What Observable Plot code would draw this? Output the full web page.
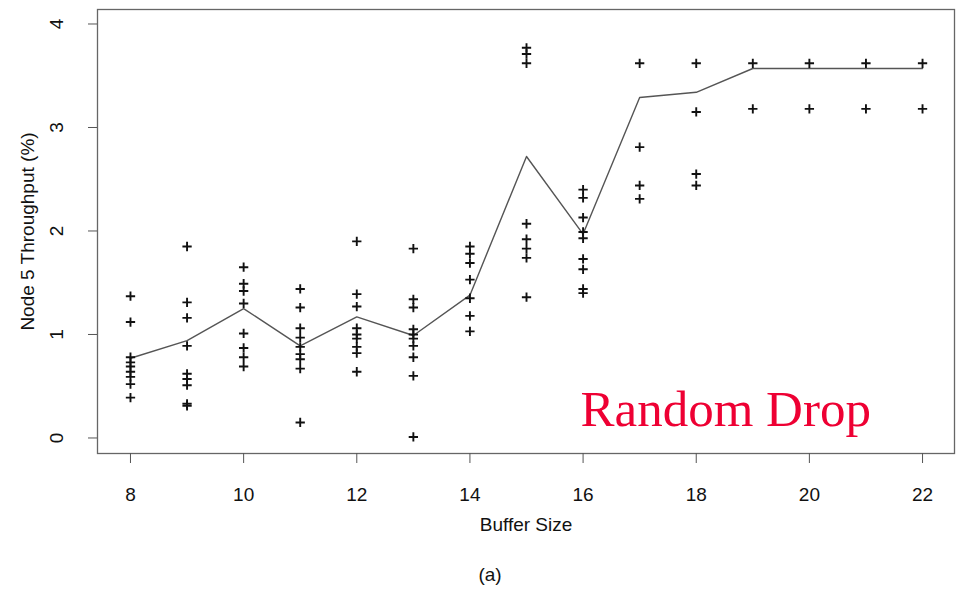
<!DOCTYPE html>
<html>
<head>
<meta charset="utf-8">
<script src="https://cdn.jsdelivr.net/npm/d3@7"></script>
<script src="https://cdn.jsdelivr.net/npm/@observablehq/plot@0.6"></script>
<style>
  html, body { margin: 0; padding: 0; background: #fff; }
  #chart svg { display: block; }
</style>
</head>
<body>
<div id="chart"></div>
<script>
// Buffer sizes (x categories)
const bufferSizes = [8, 9, 10, 11, 12, 13, 14, 15, 16, 17, 18, 19, 20, 21, 22];

// Individual run throughputs (%) per buffer size
const runs8  = [1.37, 1.12, 0.78, 0.73, 0.69, 0.64, 0.59, 0.52, 0.39];
const runs9  = [1.85, 1.31, 1.16, 0.89, 0.62, 0.57, 0.51, 0.33, 0.31];
const runs10 = [1.65, 1.49, 1.42, 1.30, 1.01, 0.87, 0.78, 0.69];
const runs11 = [1.44, 1.26, 1.06, 0.97, 0.88, 0.81, 0.76, 0.67, 0.15];
const runs12 = [1.90, 1.39, 1.27, 1.06, 1.00, 0.96, 0.88, 0.82, 0.64];
const runs13 = [1.83, 1.34, 1.26, 1.05, 1.00, 0.96, 0.89, 0.78, 0.60, 0.01];
const runs14 = [1.85, 1.78, 1.69, 1.53, 1.35, 1.18, 1.03];
const runs15 = [3.77, 3.71, 3.62, 2.07, 1.92, 1.83, 1.74, 1.36];
const runs16 = [2.40, 2.32, 2.13, 1.99, 1.93, 1.73, 1.63, 1.44, 1.40];
const runs17 = [3.62, 2.81, 2.44, 2.31];
const runs18 = [3.62, 3.15, 2.55, 2.44];
const runs19 = [3.62, 3.18];
const runs20 = [3.62, 3.18];
const runs21 = [3.62, 3.18];
const runs22 = [3.62, 3.18];

// Mean throughput line (%)
const meanThroughput = [0.77, 0.94, 1.25, 0.89, 1.17, 0.99, 1.38, 2.72, 1.97, 3.29, 3.34, 3.57, 3.57, 3.57, 3.57];

// Tick labels
const xTicks = [8, 10, 12, 14, 16, 18, 20, 22];
const yTicks = [0, 1, 2, 3, 4];

const allRuns = [runs8, runs9, runs10, runs11, runs12, runs13, runs14, runs15,
                 runs16, runs17, runs18, runs19, runs20, runs21, runs22];
const points = bufferSizes.flatMap((b, i) => allRuns[i].map(v => ({buffer: b, throughput: v})));
const meanLine = bufferSizes.map((b, i) => ({buffer: b, throughput: meanThroughput[i]}));

const chart = Plot.plot({
  width: 959,
  height: 591,
  marginLeft: 97,
  marginRight: 5,
  marginTop: 9,
  marginBottom: 138,
  style: {fontFamily: "'Liberation Sans', Arial, sans-serif", fontSize: "19px", color: "#111", background: "#fff"},
  x: {domain: [7.417, 22.565]},
  y: {domain: [-0.150, 4.140]},
  marks: [
    Plot.frame({stroke: "#666", strokeWidth: 1.3}),
    Plot.axisX({ticks: xTicks, tickSize: 10, tickPadding: 24, tickFormat: d => String(d),
      label: "Buffer Size", labelAnchor: "center", labelArrow: "none", labelOffset: 77,
      fontSize: 19, stroke: "#555", style: {letterSpacing: "1px"}}),
    Plot.axisY({ticks: yTicks, tickSize: 9, tickRotate: -90, tickPadding: 26, tickFormat: d => String(d),
      label: "Node 5 Throughput (%)", labelAnchor: "center", labelArrow: "none", labelOffset: 77,
      fontSize: 19, stroke: "#555"}),
    Plot.line(meanLine, {x: "buffer", y: "throughput", stroke: "#555", strokeWidth: 1.4}),
    Plot.dot(points, {x: "buffer", y: "throughput", symbol: "plus", r: 3.1, stroke: "#111", strokeWidth: 1.9}),
    Plot.text(["Random Drop"], {frameAnchor: "bottom-left", text: d => d, dx: 483, dy: -44,
      textAnchor: "start", lineAnchor: "middle", fontSize: 51, fill: "#ee0033",
      fontFamily: "'Liberation Serif', 'Times New Roman', serif"}),
    Plot.text(["(a)"], {frameAnchor: "bottom", text: d => d, dx: -36, dy: 121,
      lineAnchor: "middle", fontSize: 19, fill: "#111", style: {letterSpacing: "1px"}})
  ]
});
document.getElementById("chart").appendChild(chart);
</script>
</body>
</html>
